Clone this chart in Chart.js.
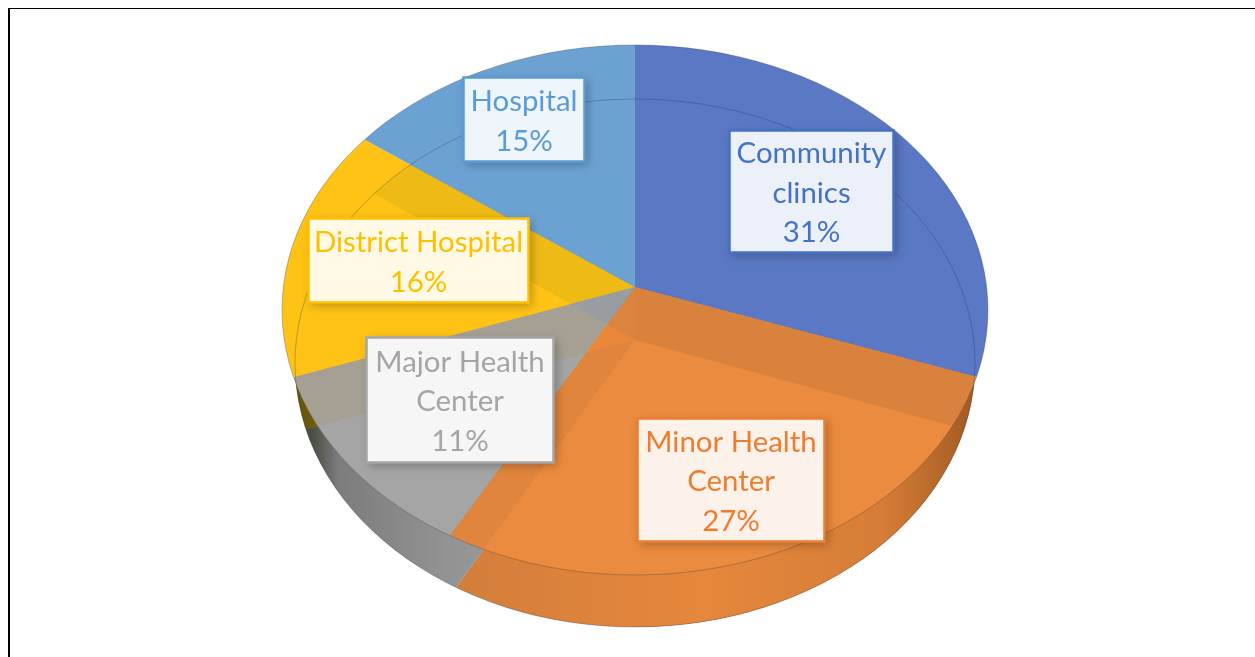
<!DOCTYPE html>
<html>
<head>
<meta charset="utf-8">
<style>
html,body{margin:0;padding:0;background:#fff;overflow:hidden}
#wrap{position:relative;width:1255px;height:657px}
#frame{position:absolute;left:8px;top:8px;right:0;bottom:0;border-left:2px solid #000;border-top:1.5px solid #000;pointer-events:none}
canvas{position:absolute;left:0;top:0}
</style>
<script src="https://cdn.jsdelivr.net/npm/chart.js@4"></script>
</head>
<body>
<div id="wrap"><canvas id="c" width="1255" height="657"></canvas><div id="frame"></div></div>
<script>
const categories = ["Community clinics", "Minor Health Center", "Major Health Center", "District Hospital", "Hospital"];
const values = [31, 27, 11, 16, 15];
const faceColors = ["#5B78C4", "#EB8B3F", "#A5A5A5", "#FFC316", "#6CA2D2"];
const labelColors = ["#4472C4", "#ED7D31", "#A5A5A5", "#FFC000", "#5B9BD5"];
const labelLines = [["Community", "clinics"], ["Minor Health", "Center"], ["Major Health", "Center"], ["District Hospital"], ["Hospital"]];
const labelBoxes = [[729,130,165,123], [637,418,188,124], [366,337,188,126], [308,218,221,85], [463,77,122,85]];

// Perspective of the tilted 3D pie: top disc and bottom disc
const topDisc = {cx:635, cy:310, rx:353, ry:265, apexY:287, k:351, q:263, p:0.0868};
const botDisc = {cx:635, cy:363, rx:340, ry:264, apexY:340, k:338, q:261, p:0.0868};

function project(theta, d){
  const u = Math.sin(theta);
  let v = Math.cos(theta);
  if (v < 0) v = -Math.pow(-v, 1.12);   // foreshortening of the near half
  const den = 1 + d.p * v;
  return [d.k * u / den, -d.q * v / den];
}
function ellipsePath(ctx, d){
  ctx.beginPath();
  ctx.ellipse(d.cx, d.cy, d.rx, d.ry, 0, 0, Math.PI * 2);
}
function arcAngles(arc){
  return arc.getProps(['x','y','startAngle','endAngle','outerRadius'], true);
}
function drawArc(ctx, arc, d, alpha, op){
  const g = 1.6, p = arcAngles(arc);
  const a0 = p.startAngle, a1 = p.endAngle, R = p.outerRadius;
  const A = project(a0 + Math.PI/2, d), B = project(a1 + Math.PI/2, d);
  const e = [Math.cos(a0), Math.sin(a0), Math.cos(a1), Math.sin(a1)];
  const det = e[0]*e[3] - e[2]*e[1];
  const inv = [e[3]/det, -e[1]/det, -e[2]/det, e[0]/det];
  const s = g / R;
  const m = [
    s*(A[0]*inv[0] + B[0]*inv[1]), s*(A[1]*inv[0] + B[1]*inv[1]),
    s*(A[0]*inv[2] + B[0]*inv[3]), s*(A[1]*inv[2] + B[1]*inv[3])
  ];
  ctx.save();
  ellipsePath(ctx, d); ctx.clip();
  ctx.globalAlpha = alpha;
  if (op) ctx.globalCompositeOperation = op;
  ctx.translate(d.cx, d.apexY);
  ctx.transform(m[0], m[1], m[2], m[3], 0, 0);
  ctx.translate(-p.x, -p.y);
  arc.draw(ctx);
  ctx.restore();
}
function drawDisc(chart, d){
  chart.getDatasetMeta(0).data.forEach(arc => drawArc(chart.ctx, arc, d, 1));
}
// Near-side wall on the right takes the colour of the slice above it
function drawRightWall(chart){
  const ctx = chart.ctx;
  ctx.save();
  ctx.beginPath();
  ctx.rect(topDisc.cx, 0, 1255 - topDisc.cx, 657);
  ctx.clip();
  ellipsePath(ctx, botDisc); ctx.clip();
  const wide = {...topDisc, rx: 400, ry: 400};
  chart.getDatasetMeta(0).data.forEach(arc => drawArc(ctx, arc, wide, 1));
  ctx.restore();
}
// The lower disc shows faintly through the top face where slices differ
function drawSeeThrough(chart){
  const ctx = chart.ctx, arcs = chart.getDatasetMeta(0).data;
  arcs.forEach((arc, i) => {
    const p = arcAngles(arc);
    const A = project(p.startAngle + Math.PI/2, topDisc), B = project(p.endAngle + Math.PI/2, topDisc);
    ctx.save();
    ellipsePath(ctx, topDisc); ctx.clip();
    ctx.beginPath();
    ctx.moveTo(topDisc.cx, topDisc.apexY);
    ctx.lineTo(topDisc.cx + 3*A[0], topDisc.apexY + 3*A[1]);
    ctx.lineTo(topDisc.cx + 3*(A[0]+B[0]), topDisc.apexY + 3*(A[1]+B[1]));
    ctx.lineTo(topDisc.cx + 3*B[0], topDisc.apexY + 3*B[1]);
    ctx.closePath();
    ctx.clip();
    arcs.forEach((other, j) => { if (j !== i) drawArc(ctx, other, botDisc, 0.12, 'multiply'); });
    ctx.restore();
  });
}
function shadeWall(ctx){
  ctx.save();
  ellipsePath(ctx, botDisc); ctx.clip();
  ctx.beginPath();
  ctx.rect(0, 0, 1255, 657);
  ctx.ellipse(topDisc.cx, topDisc.cy, topDisc.rx, topDisc.ry, 0, 0, Math.PI * 2);
  ctx.clip('evenodd');
  const gr = ctx.createLinearGradient(282, 0, 989, 0);
  gr.addColorStop(0, 'rgba(20,30,10,0.72)');
  gr.addColorStop(0.045, 'rgba(20,30,10,0.62)');
  gr.addColorStop(0.08, 'rgba(30,30,30,0.30)');
  gr.addColorStop(0.25, 'rgba(30,30,30,0.12)');
  gr.addColorStop(0.6, 'rgba(60,30,0,0.03)');
  gr.addColorStop(0.85, 'rgba(80,40,0,0.14)');
  gr.addColorStop(1, 'rgba(70,30,0,0.5)');
  ctx.fillStyle = gr;
  ctx.fillRect(0, 0, 1255, 657);
  ctx.restore();
}
function strokeRims(ctx){
  ctx.save();
  ctx.lineWidth = 0.9;
  ctx.strokeStyle = 'rgba(40,40,70,0.32)';
  ellipsePath(ctx, topDisc); ctx.stroke();
  ellipsePath(ctx, botDisc); ctx.stroke();
  ctx.restore();
}
function drawLabels(ctx){
  const lh = 39.5, font = '29.4px Lato, Carlito, sans-serif';
  categories.forEach((c, i) => {
    const [x, y, w, h] = labelBoxes[i];
    const lines = labelLines[i].concat([values[i] + '%']);
    ctx.save();
    ctx.shadowColor = 'rgba(0,0,0,0.25)';
    ctx.shadowBlur = 9;
    ctx.shadowOffsetX = 3;
    ctx.shadowOffsetY = 3;
    ctx.fillStyle = '#fff';
    ctx.fillRect(x, y, w, h);
    ctx.restore();
    ctx.save();
    ctx.fillStyle = labelColors[i];
    ctx.globalAlpha = 0.1;
    ctx.fillRect(x, y, w, h);
    ctx.globalAlpha = 1;
    ctx.strokeStyle = labelColors[i];
    ctx.lineWidth = 2.5;
    ctx.strokeRect(x + 0.5, y + 0.5, w - 1, h - 1);
    ctx.fillStyle = labelColors[i];
    ctx.font = font;
    ctx.textAlign = 'center';
    ctx.textBaseline = 'middle';
    const midY = y + h / 2 + 2;
    lines.forEach((t, j) => {
      ctx.fillText(t, x + w / 2, midY + (j - (lines.length - 1) / 2) * lh);
    });
    ctx.restore();
  });
}
const pie3d = {
  id: 'pie3d',
  beforeDatasetsDraw(chart){
    const ctx = chart.ctx;
    drawDisc(chart, botDisc);
    drawRightWall(chart);
    shadeWall(ctx);
    drawDisc(chart, topDisc);
    drawSeeThrough(chart);
    strokeRims(ctx);
    return false;
  },
  afterDraw(chart){ drawLabels(chart.ctx); }
};
new Chart(document.getElementById('c'), {
  type: 'pie',
  data: { labels: categories, datasets: [{ data: values, backgroundColor: faceColors, borderWidth: 0 }] },
  options: {
    responsive: false,
    animation: false,
    events: [],
    layout: { padding: 0 },
    plugins: { legend: { display: false }, tooltip: { enabled: false } }
  },
  plugins: [pie3d]
});
</script>
</body>
</html>
